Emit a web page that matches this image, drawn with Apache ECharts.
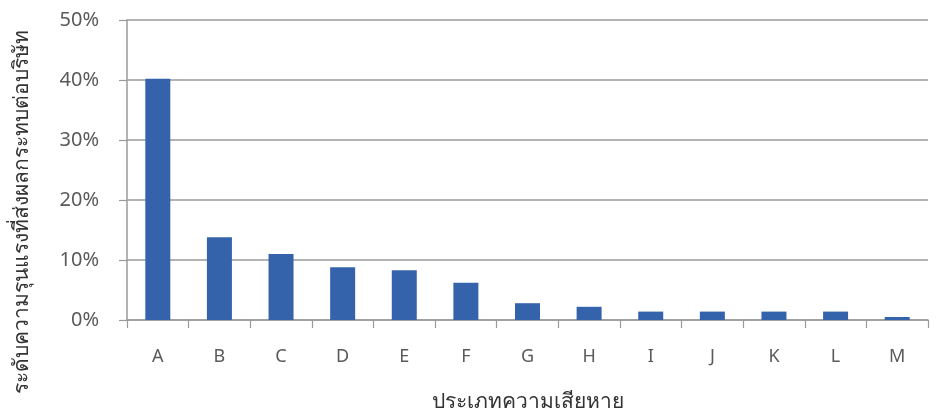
<!DOCTYPE html>
<html>
<head>
<meta charset="utf-8">
<script src="https://cdn.jsdelivr.net/npm/echarts@6/dist/echarts.min.js"></script>
<style>
  html, body { margin: 0; padding: 0; background: #fff; }
  #chart { width: 938px; height: 420px; }
</style>
</head>
<body>
<div id="chart"></div>
<script>
// Damage categories and their impact level (percent)
const categories = ['A', 'B', 'C', 'D', 'E', 'F', 'G', 'H', 'I', 'J', 'K', 'L', 'M'];
const impactPercent = [40.2, 13.8, 11.0, 8.8, 8.3, 6.2, 2.8, 2.2, 1.4, 1.4, 1.4, 1.4, 0.5];
const yTicks = [0, 10, 20, 30, 40, 50];

const yAxisTitle = 'ระดับความรุนแรงที่ส่งผลกระทบต่อบริษัท';
const xAxisTitle = 'ประเภทความเสียหาย';

const chart = echarts.init(document.getElementById('chart'), null, { renderer: 'canvas' });
const font = "'Noto Sans', 'DejaVu Sans', sans-serif";

chart.setOption({
  animation: false,
  backgroundColor: '#ffffff',
  grid: { left: 127, right: 10, top: 20, bottom: 100, containLabel: false, outerBoundsMode: 'none' },
  xAxis: {
    type: 'category',
    data: categories,
    boundaryGap: true,
    axisLine: { lineStyle: { color: '#9a9a9a', width: 1.5 } },
    axisTick: { show: true, length: 8, lineStyle: { color: '#9a9a9a', width: 1.2 } },
    axisLabel: { color: '#5a5a5a', fontSize: 18, margin: 28, fontFamily: font },
    name: xAxisTitle,
    nameLocation: 'middle',
    nameGap: 72,
    nameTextStyle: { color: '#333', fontSize: 21, fontFamily: font }
  },
  yAxis: {
    type: 'value',
    min: yTicks[0],
    max: yTicks[yTicks.length - 1],
    interval: 10,
    axisLine: { show: true, lineStyle: { color: '#9a9a9a', width: 1.5 } },
    axisTick: { show: true, inside: false, length: 8, lineStyle: { color: '#9a9a9a', width: 1.2 } },
    axisLabel: { color: '#5a5a5a', fontSize: 20, margin: 28, formatter: '{value}%', fontFamily: font },
    splitLine: { show: true, lineStyle: { color: '#9a9a9a', width: 1.5 } }
  },
  graphic: [{
    type: 'text',
    x: 22,
    y: 212,
    rotation: Math.PI / 2,
    style: {
      text: yAxisTitle,
      fill: '#333',
      fontSize: 21,
      fontFamily: font,
      align: 'center',
      verticalAlign: 'middle'
    }
  }],
  series: [{
    type: 'bar',
    data: impactPercent,
    barWidth: 25,
    itemStyle: { color: '#3563ab' }
  }]
});
</script>
</body>
</html>
